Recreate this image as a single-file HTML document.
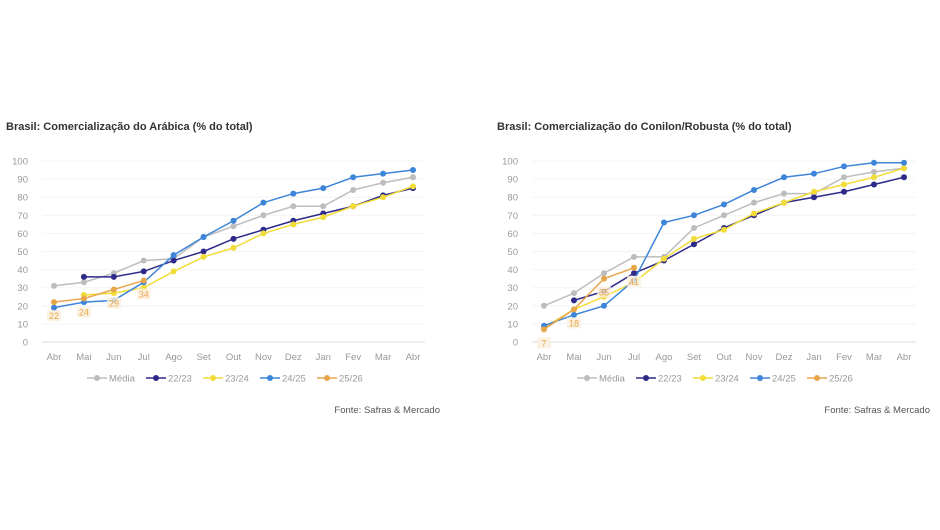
<!DOCTYPE html>
<html><head><meta charset="utf-8">
<style>
html,body{margin:0;padding:0;background:#fff;}
body{width:940px;height:530px;position:relative;overflow:hidden;font-family:"Liberation Sans",sans-serif;}
svg{position:absolute;left:0;top:0;}
</style></head>
<body>
<svg id="c" width="940" height="530"></svg>
<script>
const months = ["Abr","Mai","Jun","Jul","Ago","Set","Out","Nov","Dez","Jan","Fev","Mar","Abr"];
const yTicks = [0,10,20,30,40,50,60,70,80,90,100];
const seriesNames = ["Média","22/23","23/24","24/25","25/26"];
const seriesColors = ["#bdbdbd","#2e2a8a","#f2dc3a","#3d85d8","#e8a64a"];
const araMedia = [31,33,38,45,46,58,64,70,75,75,84,88,91];
const ara2223 = [null,36,36,39,45,50,57,62,67,71,75,81,85];
const ara2324 = [null,26,27,30,39,47,52,60,65,69,75,80,86];
const ara2425 = [19,22,23,33,48,58,67,77,82,85,91,93,95];
const ara2526 = [22,24,29,34,null,null,null,null,null,null,null,null,null];
const conMedia = [20,27,38,47,47,63,70,77,82,82,91,94,96];
const con2223 = [null,23,28,38,45,54,63,70,77,80,83,87,91];
const con2324 = [8,18,25,33,46,57,62,71,77,83,87,91,96];
const con2425 = [9,15,20,34,66,70,76,84,91,93,97,99,99];
const con2526 = [7,18,35,41,null,null,null,null,null,null,null,null,null];

const NS="http://www.w3.org/2000/svg";
const svg=document.getElementById('c');
function mk(tag,attrs,parent){const e=document.createElementNS(NS,tag);for(const k in attrs)e.setAttribute(k,attrs[k]);(parent||svg).appendChild(e);return e;}

function chart(cfg){
  const g=mk('g',{});
  
  
  const x=i=>cfg.x0+i*(cfg.x1-cfg.x0)/(months.length-1);
  const y=v=>cfg.y0-v*(cfg.y0-cfg.y1)/100;
  const t=mk('text',{x:cfg.tx,y:130,'font-size':11,'font-weight':'bold',fill:'#333'},g);
  t.textContent=cfg.title;
  
  
  yTicks.forEach(v=>{
    const l=mk('line',{x1:cfg.x0-12,x2:cfg.x1+12,y1:y(v),y2:y(v),stroke:v===0?'#ddd':'#f4f4f4','stroke-width':1},g);
    
    
    const tt=mk('text',{x:cfg.x0-26,y:y(v)+3.5,'font-size':9.5,fill:'#999','text-anchor':'end'},g);
    tt.textContent=v;
    
    
  });
  months.forEach((m,i)=>{
    const tt=mk('text',{x:x(i),y:cfg.y0+18,'font-size':9.5,fill:'#999','text-anchor':'middle'},g);
    tt.textContent=m;
    
    
  });
  cfg.data.forEach((d,si)=>{
    const pts=[];d.forEach((v,i)=>{if(v!==null)pts.push([x(i),y(v)]);});
    const p=mk('polyline',{points:pts.map(p=>p.join(',')).join(' '),fill:'none',stroke:seriesColors[si],'stroke-width':1.5},g);
    
    
    pts.forEach(pt=>{
      const c=mk('circle',{cx:pt[0],cy:pt[1],r:3,fill:seriesColors[si]},g);
      
      
    });
  });
  const last=cfg.data[4];
  last.forEach((v,i)=>{
    if(v===null)return;
    const bg=mk('rect',{x:x(i)-7,y:y(v)+8,width:14,height:11,fill:'#fbefdc',opacity:0.8},g);
    
    
    const lb=mk('text',{x:x(i),y:y(v)+17,'font-size':9,fill:'#e8a64a','text-anchor':'middle'},g);
    lb.textContent=v;
    
    
  });
  let lx=cfg.lx;
  seriesNames.forEach((n,si)=>{
    const lg=mk('g',{},g);
    
    
    mk('line',{x1:lx,x2:lx+20,y1:378,y2:378,stroke:seriesColors[si],'stroke-width':1.5},lg);
    mk('circle',{cx:lx+10,cy:378,r:3,fill:seriesColors[si]},lg);
    const tt=mk('text',{x:lx+22,y:381.5,'font-size':9.5,fill:'#999'},lg);
    tt.textContent=n;
    lx+= n==="Média"?59:57;
  });
  const f=mk('text',{x:cfg.fx,y:413,'font-size':9.5,fill:'#555','text-anchor':'end'},g);
  f.textContent='Fonte: Safras & Mercado';
  
  
}
chart({name:'arabica-chart',title:'Brasil: Comercialização do Arábica (% do total)',tx:6,x0:54,x1:413,y0:342,y1:161,data:[araMedia,ara2223,ara2324,ara2425,ara2526],lx:87,fx:440});
chart({name:'conilon-chart',title:'Brasil: Comercialização do Conilon/Robusta (% do total)',tx:497,x0:544,x1:904,y0:342,y1:161,data:[conMedia,con2223,con2324,con2425,con2526],lx:577,fx:930});
</script>
</body></html>
